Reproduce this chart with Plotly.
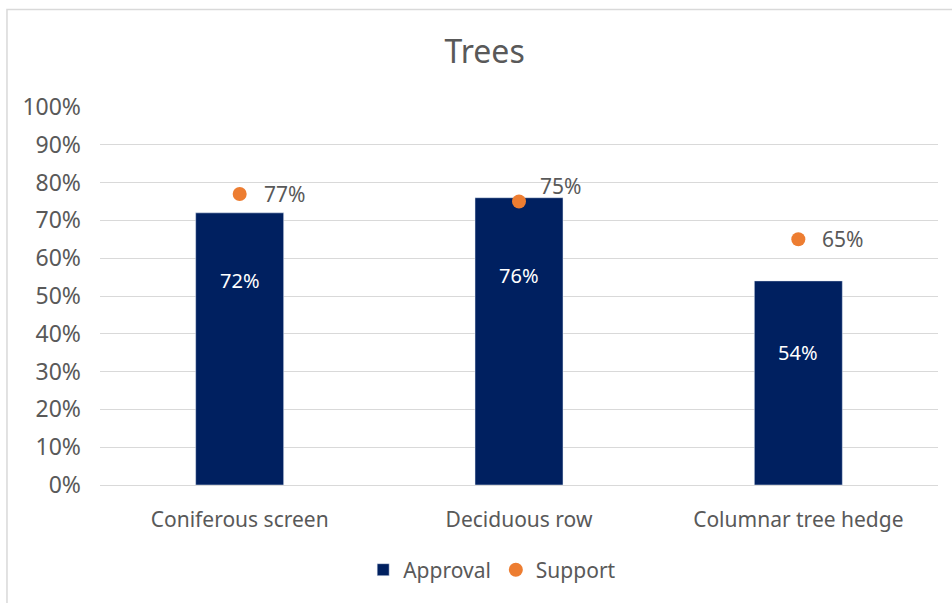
import plotly.graph_objects as go

categories = ["Coniferous screen", "Deciduous row", "Columnar tree hedge"]
approval = [0.72, 0.76, 0.54]
support = [0.77, 0.75, 0.65]
yticks = [0, 0.1, 0.2, 0.3, 0.4, 0.5, 0.6, 0.7, 0.8, 0.9, 1.0]

NAVY = "#002060"
ORANGE = "#ED7D31"
GREY = "#595959"
FONT = "Noto Sans"

fig = go.Figure()
fig.add_trace(go.Bar(x=categories, y=approval, name="Approval",
                     marker=dict(color=NAVY), width=0.315))
fig.add_trace(go.Scatter(x=categories, y=support, name="Support", mode="markers",
                         marker=dict(color=ORANGE, size=14)))

# bar value labels (white, inside)
bar_label_y = [0.54, 0.555, 0.35]
for c, v, ly in zip(categories, approval, bar_label_y):
    fig.add_annotation(x=c, y=ly, text=f"{round(v*100)}%", showarrow=False,
                       font=dict(color="white", size=20, family=FONT))

# support labels
shifts = [(22, 0), (19, 16), (22, 0)]
for c, v, (dx, dy) in zip(categories, support, shifts):
    fig.add_annotation(x=c, y=v, text=f"{round(v*100)}%", showarrow=False,
                       xanchor="left", xshift=dx, yshift=dy,
                       font=dict(color=GREY, size=21, family=FONT))

fig.add_shape(type="rect", xref="paper", yref="paper",
              x0=-0.111, x1=1.03, y0=-0.33, y1=1.258,
              line=dict(color="#D9D9D9", width=1.5), layer="below")

fig.update_layout(
    width=952, height=603,
    margin=dict(l=100, r=14, t=107, b=116),
    paper_bgcolor="white", plot_bgcolor="white",
    font=dict(family=FONT, color=GREY, size=20),
    title=dict(text="Trees", x=0.459, xref="paper", xanchor="center",
               y=1 - 52/603, yanchor="middle",
               font=dict(size=32, color=GREY, family=FONT)),
    showlegend=True,
    legend=dict(orientation="h", x=0.468, xanchor="center", y=-0.225, yanchor="middle",
                font=dict(size=21, color=GREY), itemwidth=30, traceorder="normal"),
    bargap=0.685,
)
fig.update_yaxes(range=[0, 1], tickvals=yticks, tickformat=".0%",
                 showgrid=True, gridcolor="#D9D9D9", gridwidth=1.3,
                 zeroline=False, showline=False, ticklabelstandoff=18,
                 tickfont=dict(size=23, color=GREY))
fig.update_xaxes(showline=True, linecolor="#D9D9D9", linewidth=1.3,
                 ticks="", ticklabelstandoff=16,
                 tickfont=dict(size=21, color=GREY))

fig.write_html("out.html")
